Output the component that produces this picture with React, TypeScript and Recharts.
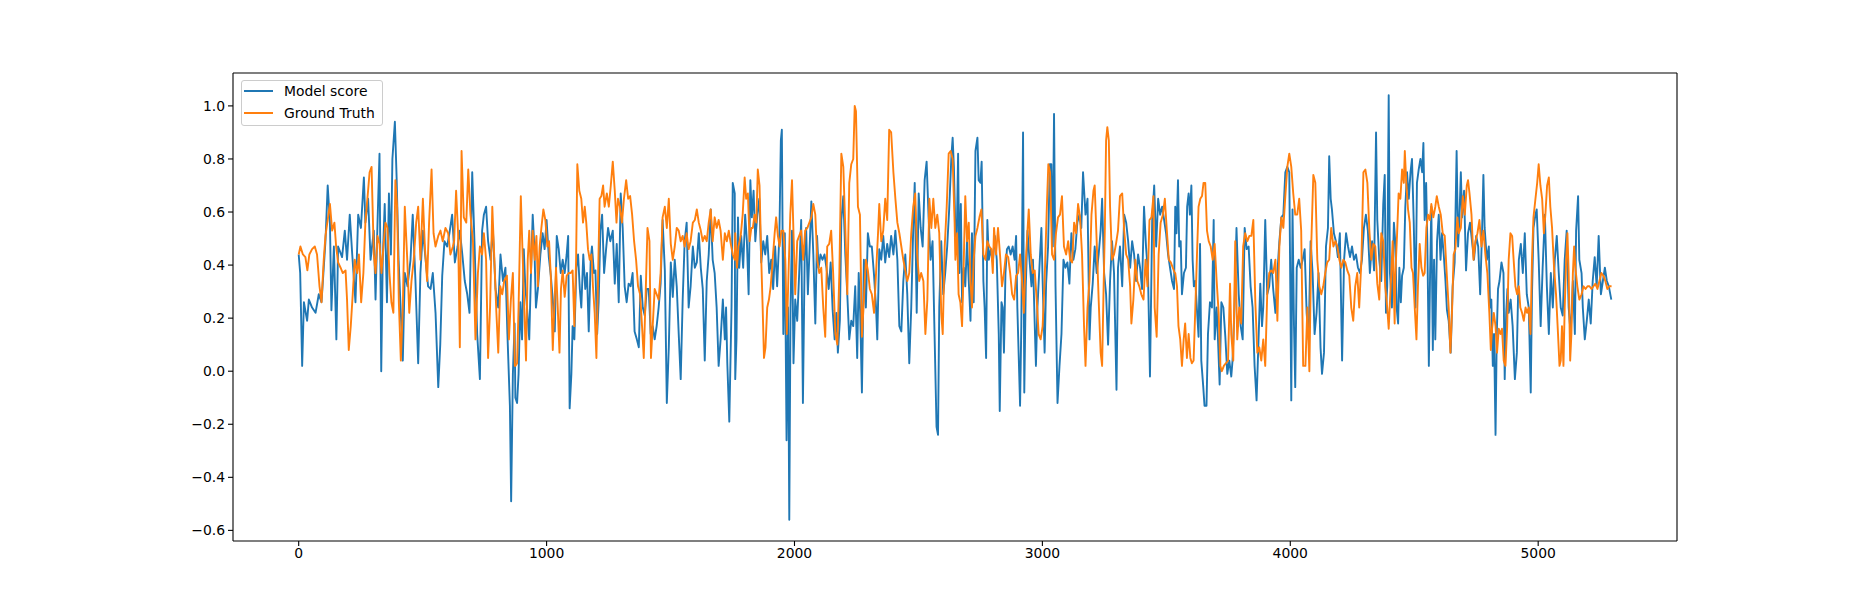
import React from 'react';
import { LineChart, Line, XAxis, YAxis, ReferenceLine } from 'recharts';

// Readings, [index, value], one array per stretch of the x axis.
const MODEL_SCORE_A: [number, number][] = [
  [0,0.44],[6,0.37],[14,0.02],[21,0.26],[34,0.19],[41,0.27],[54,0.24],[68,0.22],[81,0.29],[92,0.26],[108,0.49],[117,0.70],[126,0.56],[132,0.23],[142,0.47],[152,0.12],[159,0.47],[175,0.43],[186,0.53],[195,0.42],[206,0.59],[216,0.44],[229,0.26],[240,0.59],[251,0.54],[263,0.73],[269,0.56],[280,0.65],[290,0.42],[303,0.53],[310,0.27],[318,0.56],[326,0.82],[333,0.00],[339,0.42],[347,0.63],[356,0.26],[364,0.67],[372,0.44],[378,0.80],[388,0.94],[395,0.73],[403,0.42],[412,0.22],[420,0.04],[428,0.37],[439,0.32],[451,0.42],[460,0.59],[471,0.34],[482,0.03],[491,0.37],[501,0.53],[512,0.42],[522,0.32],[532,0.31],[541,0.37],[552,0.22],[563,-0.06],[571,0.10],[579,0.36],[588,0.49],[599,0.47],[608,0.52],[619,0.59],[630,0.41],[641,0.47],[650,0.53],[660,0.44],[670,0.34],[680,0.29],[689,0.22],[700,0.75],[709,0.49],[720,0.14],[731,-0.03],[740,0.53],[747,0.59],[756,0.62],[764,0.49],[774,0.42],[783,0.54],[794,0.31],[805,0.24],[814,0.44],[824,0.34],[834,0.39],[842,0.14],[852,-0.13],[857,-0.49],[864,-0.01],[871,0.18],
];
const MODEL_SCORE_B: [number, number][] = [
  [874,-0.10],[881,-0.12],[887,-0.01],[894,0.26],[901,0.12],[908,0.46],[914,0.32],[921,0.24],[930,0.12],[937,0.37],[944,0.59],[951,0.46],[957,0.24],[965,0.31],[975,0.44],[984,0.52],[992,0.46],[1000,0.57],[1009,0.43],[1017,0.36],[1025,0.27],[1033,0.15],[1041,0.51],[1049,0.46],[1057,0.37],[1065,0.42],[1073,0.37],[1081,0.44],[1087,0.51],[1093,-0.14],[1100,-0.01],[1105,0.17],[1112,0.12],[1120,0.39],[1127,0.44],[1134,0.31],[1140,0.24],[1148,0.44],[1156,0.31],[1163,0.37],[1170,0.15],[1178,0.42],[1183,0.47],[1191,0.37],[1197,0.38],[1204,0.14],[1210,0.26],[1217,0.53],[1224,0.59],[1232,0.37],[1240,0.46],[1248,0.54],[1257,0.49],[1267,0.53],[1275,0.33],[1283,0.48],[1291,0.26],[1299,0.67],[1307,0.54],[1315,0.32],[1323,0.26],[1331,0.33],[1339,0.32],[1347,0.37],[1355,0.15],[1364,0.12],[1372,0.09],[1380,0.36],[1388,0.24],[1396,0.21],[1404,0.31],[1412,0.31],[1420,0.14],[1428,0.17],[1436,0.12],[1444,0.17],[1452,0.24],[1460,0.33],[1468,0.57],[1477,0.38],[1485,-0.12],[1493,0.09],[1501,0.41],[1509,0.28],[1517,0.42],[1525,0.32],[1533,0.14],[1541,-0.03],[1549,0.27],[1557,0.49],[1565,0.56],[1573,0.24],[1581,0.32],[1590,0.47],[1598,0.39],[1606,0.41],[1614,0.52],[1622,0.39],[1630,0.31],[1638,0.04],[1646,0.34],[1654,0.44],[1662,0.61],[1670,0.42],[1678,0.37],[1686,0.24],[1694,0.02],[1702,0.12],[1711,0.27],[1719,0.12],[1724,0.24],[1729,0.03],[1737,-0.19],[1746,0.24],[1751,0.71],[1759,0.67],
];
const MODEL_SCORE_C: [number, number][] = [
  [1761,-0.03],[1766,0.12],[1772,0.58],[1777,0.39],[1785,0.51],[1793,0.39],[1801,0.59],[1808,0.49],[1815,0.29],[1822,0.72],[1828,0.58],[1835,0.68],[1842,0.49],[1850,0.59],[1858,0.65],[1866,0.41],[1874,0.49],[1882,0.44],[1890,0.51],[1898,0.37],[1906,0.42],[1914,0.31],[1922,0.47],[1930,0.32],[1939,0.51],[1945,0.87],[1949,0.91],[1955,0.14],[1961,0.52],[1968,-0.26],[1974,0.24],[1979,-0.56],[1984,0.24],[1990,0.53],[1996,0.03],[2003,0.27],[2011,0.19],[2019,0.37],[2027,0.57],[2034,-0.12],[2041,0.42],[2047,0.54],[2054,0.29],[2060,0.44],[2068,0.64],[2076,0.44],[2084,0.18],[2091,0.51],[2097,0.39],[2105,0.44],[2113,0.42],[2121,0.44],[2129,0.39],[2138,0.31],[2146,0.41],[2154,0.23],[2162,0.12],[2169,0.22],[2175,0.07],[2183,0.19],[2189,0.57],[2197,0.66],[2205,0.44],[2213,0.29],[2221,0.12],[2229,0.19],[2237,0.17],[2245,0.32],[2253,0.05],[2259,0.37],[2265,0.22],[2272,-0.08],[2280,0.42],[2288,0.24],[2296,0.52],[2304,0.47],[2312,0.47],[2321,0.36],[2329,0.24],[2334,0.12],[2342,0.46],[2350,0.42],[2358,0.51],[2366,0.41],[2374,0.48],[2382,0.43],[2390,0.51],[2399,0.44],[2407,0.53],[2415,0.42],[2423,0.17],[2431,0.15],[2439,0.34],[2447,0.44],[2455,0.29],[2463,0.03],[2471,0.24],[2479,0.54],[2485,0.71],[2493,0.22],[2501,0.67],[2509,0.54],[2517,0.47],[2525,0.72],[2533,0.79],[2541,0.58],[2549,0.42],[2557,0.49],[2565,0.14],[2573,-0.21],[2579,-0.24],[2584,0.24],[2592,0.49],[2600,0.29],[2608,0.37],[2616,0.47],[2624,0.61],[2633,0.81],[2638,0.88],[2643,0.77],
];
const MODEL_SCORE_D: [number, number][] = [
  [2649,0.53],[2654,0.47],[2660,0.82],[2665,0.37],[2671,0.63],[2676,0.26],[2683,0.39],[2689,0.32],[2696,0.49],[2703,0.34],[2710,0.19],[2716,0.52],[2723,0.26],[2730,0.83],[2738,0.88],[2743,0.72],[2750,0.71],[2755,0.79],[2762,0.34],[2767,0.24],[2773,0.05],[2778,0.57],[2784,0.42],[2792,0.46],[2800,0.41],[2808,0.51],[2816,0.42],[2824,0.14],[2828,-0.15],[2835,0.26],[2840,0.24],[2845,0.07],[2851,0.37],[2857,0.46],[2864,0.47],[2872,0.44],[2880,0.47],[2888,0.42],[2894,0.51],[2899,0.24],[2905,0.04],[2910,-0.13],[2915,0.17],[2922,0.90],[2927,-0.08],[2933,0.32],[2940,0.53],[2948,0.42],[2956,0.32],[2962,0.42],[2969,0.18],[2974,0.02],[2980,0.24],[2988,0.39],[2996,0.54],[3001,0.34],[3009,0.07],[3015,0.33],[3023,0.47],[3030,0.78],[3036,0.78],[3042,0.47],[3047,0.97],[3053,0.32],[3061,-0.12],[3069,0.02],[3077,0.14],[3085,0.42],[3093,0.39],[3101,0.41],[3109,0.33],[3117,0.52],[3125,0.42],[3133,0.46],[3141,0.56],[3149,0.59],[3157,0.54],[3164,0.75],[3174,0.59],[3182,0.65],[3190,0.12],[3195,0.24],[3203,0.33],[3211,0.47],[3219,0.37],[3227,0.44],[3235,0.53],[3241,0.65],[3249,0.37],[3257,0.29],[3265,0.10],[3273,0.34],[3281,0.49],[3289,0.37],[3299,-0.07],[3305,0.39],[3313,0.47],[3322,0.32],[3330,0.59],[3338,0.56],[3346,0.49],[3354,0.39],[3362,0.49],[3370,0.44],[3378,0.34],[3386,0.44],[3394,0.39],[3402,0.31],[3410,0.62],[3418,0.47],[3426,0.37],[3434,-0.02],[3443,0.57],[3451,0.70],[3459,0.47],[3467,0.65],[3475,0.59],[3483,0.62],[3491,0.57],[3499,0.52],[3507,0.44],[3515,0.39],[3523,0.34],[3531,0.31],
];
const MODEL_SCORE_E: [number, number][] = [
  [3536,0.62],[3541,0.52],[3547,0.72],[3552,0.47],[3558,0.49],[3563,0.29],[3571,0.37],[3579,0.39],[3584,0.62],[3590,0.67],[3595,0.59],[3601,0.70],[3606,0.42],[3611,0.32],[3617,0.34],[3623,0.24],[3630,0.13],[3636,0.48],[3641,0.04],[3649,-0.06],[3654,-0.13],[3662,-0.13],[3668,0.14],[3676,0.26],[3684,0.24],[3691,0.57],[3695,0.12],[3703,0.24],[3708,0.13],[3715,-0.05],[3722,0.26],[3730,0.24],[3738,0.13],[3746,-0.01],[3754,0.04],[3762,-0.02],[3767,0.04],[3775,0.24],[3783,0.54],[3792,0.29],[3800,0.17],[3808,0.12],[3816,0.54],[3824,0.46],[3832,0.47],[3840,0.32],[3848,0.24],[3856,0.02],[3864,-0.11],[3872,0.12],[3879,0.33],[3886,0.17],[3891,0.24],[3899,0.57],[3907,0.29],[3915,0.32],[3923,0.42],[3931,0.31],[3940,0.22],[3948,0.37],[3956,0.49],[3964,0.58],[3972,0.59],[3980,0.75],[3988,0.77],[3996,0.75],[4004,-0.11],[4009,0.61],[4015,0.17],[4020,-0.06],[4026,0.39],[4034,0.42],[4042,0.39],[4050,0.42],[4058,0.46],[4066,0.22],[4074,0.12],[4082,0.49],[4090,0.37],[4098,0.14],[4106,0.22],[4114,0.37],[4122,0.09],[4128,-0.01],[4136,0.07],[4144,0.47],[4152,0.54],[4157,0.81],[4163,0.65],[4168,0.61],[4176,0.52],[4184,0.49],[4192,0.43],[4200,0.52],[4209,0.04],[4217,0.42],[4225,0.52],[4233,0.47],[4241,0.43],[4249,0.47],[4257,0.42],[4265,0.44],[4273,0.39],[4281,0.37],[4289,0.42],[4297,0.54],[4305,0.59],[4313,0.53],[4321,0.37],[4330,0.49],[4338,0.38],[4346,0.90],[4351,0.57],[4359,0.42],[4367,0.34],[4375,0.63],[4381,0.74],[4386,0.22],[4391,0.32],[4397,1.04],[4402,0.37],[4410,0.24],[4418,0.56],
];
const MODEL_SCORE_F: [number, number][] = [
  [4424,0.48],[4429,0.24],[4435,0.18],[4440,0.39],[4446,0.26],[4451,0.36],[4458,0.39],[4464,0.62],[4471,0.75],[4478,0.65],[4485,0.75],[4491,0.80],[4498,0.56],[4505,0.24],[4511,0.71],[4518,0.76],[4525,0.80],[4532,0.75],[4537,0.86],[4542,0.57],[4548,0.71],[4553,0.48],[4559,0.02],[4564,0.37],[4569,0.62],[4575,0.08],[4580,0.42],[4585,0.12],[4592,0.49],[4599,0.59],[4606,0.42],[4612,0.52],[4619,0.44],[4626,0.34],[4632,0.23],[4639,0.19],[4647,0.07],[4655,0.32],[4663,0.41],[4671,0.83],[4677,0.47],[4682,0.57],[4688,0.75],[4693,0.58],[4701,0.68],[4709,0.38],[4717,0.52],[4725,0.56],[4733,0.49],[4741,0.42],[4750,0.51],[4758,0.47],[4766,0.29],[4774,0.54],[4779,0.74],[4784,0.54],[4793,0.42],[4801,0.47],[4806,0.24],[4811,0.27],[4817,0.02],[4822,0.14],[4828,-0.24],[4833,0.14],[4838,0.31],[4844,0.34],[4852,0.41],[4860,0.37],[4865,-0.03],[4871,0.22],[4876,0.31],[4881,0.22],[4889,0.27],[4897,0.17],[4906,-0.03],[4914,0.07],[4922,0.42],[4930,0.48],[4938,0.37],[4946,0.52],[4954,0.29],[4962,0.24],[4970,-0.08],[4975,0.29],[4981,0.54],[4989,0.59],[4994,0.61],[5002,0.42],[5010,0.17],[5018,0.39],[5027,0.59],[5035,0.32],[5043,0.14],[5051,0.37],[5059,0.24],[5067,0.42],[5075,0.51],[5083,0.37],[5091,0.24],[5099,0.21],[5107,0.42],[5115,0.53],[5123,0.24],[5131,0.14],[5140,0.34],[5148,0.14],[5153,0.53],[5161,0.66],[5166,0.42],[5175,0.37],[5180,0.24],[5188,0.12],[5196,0.19],[5204,0.27],[5212,0.18],[5220,0.34],[5228,0.43],[5236,0.32],[5244,0.51],[5253,0.29],[5261,0.34],[5269,0.39],[5277,0.34],[5285,0.32],[5295,0.27],
];

const GROUND_TRUTH_A: [number, number][] = [
  [0,0.44],[7,0.47],[17,0.44],[27,0.43],[35,0.38],[43,0.44],[54,0.46],[65,0.47],[74,0.44],[84,0.32],[92,0.26],[101,0.42],[108,0.51],[117,0.57],[126,0.63],[135,0.53],[144,0.56],[151,0.47],[159,0.41],[169,0.39],[178,0.37],[189,0.38],[195,0.27],[202,0.08],[210,0.17],[218,0.29],[226,0.42],[236,0.37],[243,0.44],[252,0.26],[261,0.37],[269,0.56],[279,0.67],[286,0.75],[294,0.77],[303,0.44],[310,0.37],[318,0.51],[326,0.48],[334,0.37],[342,0.47],[350,0.56],[358,0.54],[366,0.37],[374,0.26],[382,0.22],[390,0.72],[397,0.62],[404,0.26],[412,0.04],[420,0.24],[428,0.62],[438,0.42],[446,0.22],[455,0.34],[464,0.42],[474,0.56],[482,0.62],[491,0.42],[501,0.65],[509,0.47],[518,0.34],[526,0.56],[536,0.76],[544,0.52],[552,0.47],[563,0.51],[572,0.53],[581,0.49],[592,0.54],[603,0.52],[612,0.44],[622,0.47],[627,0.49],[635,0.68],[643,0.52],[650,0.09],[657,0.83],[666,0.58],[676,0.56],[684,0.76],[693,0.59],[703,0.49],[713,0.12],[723,0.37],[731,0.47],[740,0.44],[747,0.52],[756,0.42],[764,0.05],[772,0.24],[781,0.62],[789,0.43],[797,0.23],[805,0.07],[813,0.32],[821,0.29],[829,0.34],[840,0.36],[848,0.12],[856,0.27],[864,0.37],[872,0.02],
];
const GROUND_TRUTH_B: [number, number][] = [
  [874,0.02],[881,0.03],[887,0.24],[896,0.66],[904,0.42],[910,0.24],[917,0.04],[924,0.42],[930,0.53],[937,0.37],[944,0.53],[952,0.42],[959,0.51],[965,0.32],[972,0.47],[979,0.54],[987,0.61],[995,0.57],[1003,0.47],[1010,0.49],[1017,0.36],[1025,0.08],[1031,0.24],[1038,0.39],[1045,0.24],[1052,0.07],[1058,0.31],[1065,0.38],[1073,0.28],[1081,0.36],[1089,0.37],[1097,0.37],[1105,0.38],[1112,0.17],[1119,0.42],[1124,0.78],[1132,0.68],[1140,0.65],[1147,0.56],[1154,0.62],[1160,0.56],[1167,0.46],[1174,0.42],[1181,0.44],[1187,0.32],[1194,0.22],[1201,0.05],[1208,0.37],[1214,0.65],[1221,0.66],[1228,0.70],[1234,0.62],[1243,0.67],[1251,0.62],[1259,0.70],[1267,0.79],[1275,0.68],[1282,0.56],[1288,0.65],[1296,0.62],[1304,0.56],[1312,0.65],[1321,0.72],[1329,0.65],[1337,0.66],[1345,0.59],[1353,0.49],[1361,0.42],[1369,0.32],[1377,0.29],[1385,0.17],[1392,0.05],[1399,0.27],[1407,0.54],[1415,0.49],[1421,0.05],[1428,0.17],[1436,0.31],[1444,0.29],[1452,0.27],[1460,0.37],[1468,0.58],[1477,0.62],[1485,0.54],[1493,0.65],[1501,0.48],[1509,0.42],[1517,0.47],[1525,0.54],[1533,0.53],[1541,0.49],[1549,0.51],[1557,0.47],[1565,0.52],[1573,0.46],[1581,0.49],[1590,0.56],[1598,0.57],[1606,0.61],[1614,0.56],[1622,0.53],[1630,0.49],[1638,0.51],[1646,0.49],[1654,0.56],[1662,0.61],[1670,0.49],[1678,0.58],[1686,0.54],[1694,0.57],[1702,0.53],[1711,0.42],[1719,0.52],[1727,0.49],[1735,0.53],[1743,0.48],[1751,0.44],[1759,0.42],
];
const GROUND_TRUTH_C: [number, number][] = [
  [1761,0.52],[1768,0.39],[1774,0.47],[1783,0.51],[1791,0.59],[1799,0.73],[1805,0.65],[1812,0.67],[1819,0.49],[1826,0.54],[1832,0.54],[1839,0.59],[1846,0.56],[1852,0.76],[1859,0.70],[1866,0.42],[1871,0.26],[1877,0.05],[1883,0.09],[1890,0.24],[1897,0.27],[1904,0.32],[1912,0.42],[1920,0.52],[1926,0.58],[1933,0.51],[1940,0.47],[1947,0.53],[1955,0.53],[1963,0.42],[1969,0.14],[1976,0.37],[1983,0.59],[1990,0.72],[1996,0.52],[2003,0.29],[2011,0.49],[2019,0.51],[2027,0.53],[2035,0.42],[2043,0.53],[2052,0.54],[2060,0.56],[2068,0.58],[2076,0.63],[2084,0.59],[2092,0.42],[2100,0.37],[2108,0.39],[2116,0.24],[2124,0.13],[2132,0.47],[2140,0.48],[2148,0.53],[2156,0.37],[2165,0.14],[2173,0.10],[2181,0.37],[2189,0.82],[2197,0.77],[2205,0.54],[2213,0.29],[2221,0.71],[2229,0.78],[2237,0.80],[2243,1.00],[2248,0.98],[2256,0.62],[2264,0.59],[2272,0.13],[2280,0.27],[2288,0.42],[2296,0.38],[2304,0.31],[2312,0.29],[2321,0.22],[2329,0.37],[2337,0.52],[2342,0.63],[2350,0.49],[2358,0.53],[2366,0.65],[2374,0.57],[2382,0.91],[2390,0.90],[2399,0.75],[2407,0.65],[2415,0.56],[2423,0.52],[2431,0.47],[2439,0.42],[2447,0.38],[2455,0.34],[2463,0.37],[2471,0.52],[2479,0.62],[2487,0.67],[2495,0.44],[2503,0.34],[2511,0.37],[2520,0.34],[2528,0.14],[2536,0.27],[2544,0.65],[2552,0.54],[2560,0.65],[2568,0.54],[2576,0.59],[2584,0.52],[2592,0.22],[2598,0.14],[2606,0.47],[2614,0.62],[2622,0.82],[2630,0.83],[2638,0.80],[2646,0.56],
];
const GROUND_TRUTH_D: [number, number][] = [
  [2649,0.42],[2656,0.52],[2662,0.29],[2669,0.26],[2676,0.17],[2683,0.42],[2689,0.66],[2696,0.49],[2703,0.56],[2710,0.34],[2716,0.24],[2723,0.42],[2730,0.51],[2738,0.54],[2746,0.58],[2754,0.61],[2762,0.44],[2770,0.42],[2778,0.49],[2786,0.47],[2794,0.46],[2800,0.37],[2805,0.54],[2813,0.44],[2821,0.54],[2829,0.44],[2837,0.32],[2845,0.37],[2853,0.44],[2862,0.43],[2870,0.37],[2878,0.29],[2886,0.27],[2894,0.36],[2902,0.37],[2910,0.44],[2918,0.34],[2925,0.22],[2931,0.38],[2940,0.53],[2945,0.61],[2953,0.44],[2961,0.37],[2969,0.38],[2977,0.27],[2985,0.14],[2993,0.12],[3001,0.17],[3009,0.34],[3018,0.62],[3024,0.78],[3031,0.75],[3039,0.44],[3047,0.42],[3055,0.52],[3063,0.58],[3071,0.59],[3079,0.66],[3087,0.47],[3096,0.44],[3104,0.49],[3112,0.42],[3120,0.41],[3128,0.56],[3136,0.52],[3144,0.63],[3152,0.58],[3160,0.44],[3168,0.17],[3174,0.02],[3182,0.24],[3190,0.34],[3198,0.59],[3206,0.68],[3211,0.70],[3219,0.49],[3227,0.27],[3235,0.07],[3241,0.02],[3246,0.27],[3252,0.54],[3257,0.87],[3262,0.92],[3268,0.87],[3273,0.62],[3281,0.42],[3289,0.44],[3297,0.48],[3305,0.53],[3313,0.66],[3322,0.67],[3330,0.53],[3338,0.44],[3346,0.42],[3354,0.32],[3359,0.18],[3367,0.27],[3375,0.42],[3383,0.34],[3391,0.32],[3399,0.29],[3408,0.27],[3416,0.42],[3424,0.32],[3432,0.57],[3440,0.58],[3448,0.66],[3453,0.24],[3461,0.13],[3469,0.44],[3477,0.56],[3486,0.59],[3494,0.65],[3502,0.53],[3510,0.42],[3518,0.41],[3526,0.39],[3534,0.37],
];
const GROUND_TRUTH_E: [number, number][] = [
  [3536,0.37],[3543,0.32],[3549,0.17],[3556,0.12],[3563,0.02],[3570,0.12],[3576,0.18],[3583,0.05],[3590,0.14],[3597,0.05],[3603,0.03],[3610,0.04],[3617,0.24],[3623,0.42],[3630,0.62],[3637,0.65],[3644,0.66],[3650,0.71],[3657,0.71],[3664,0.53],[3671,0.49],[3679,0.47],[3687,0.42],[3695,0.48],[3703,0.34],[3711,0.22],[3718,0.02],[3724,0.00],[3732,0.02],[3740,0.03],[3749,0.04],[3757,0.33],[3762,0.14],[3770,0.04],[3778,0.49],[3786,0.12],[3794,0.24],[3802,0.18],[3810,0.47],[3818,0.52],[3827,0.49],[3835,0.51],[3843,0.51],[3851,0.57],[3859,0.26],[3867,0.07],[3875,0.09],[3883,0.04],[3891,0.12],[3899,0.02],[3907,0.29],[3915,0.37],[3923,0.38],[3931,0.37],[3940,0.42],[3948,0.19],[3956,0.47],[3964,0.58],[3972,0.54],[3980,0.66],[3988,0.77],[3996,0.82],[4004,0.77],[4012,0.67],[4020,0.59],[4028,0.59],[4036,0.65],[4044,0.53],[4052,0.02],[4061,0.02],[4069,0.24],[4077,0.00],[4085,0.49],[4093,0.74],[4101,0.71],[4109,0.42],[4117,0.32],[4125,0.29],[4133,0.32],[4141,0.37],[4149,0.41],[4157,0.42],[4165,0.54],[4174,0.47],[4182,0.49],[4190,0.47],[4198,0.42],[4206,0.39],[4214,0.42],[4222,0.41],[4230,0.38],[4238,0.36],[4246,0.24],[4254,0.19],[4262,0.32],[4270,0.37],[4278,0.24],[4287,0.42],[4295,0.75],[4303,0.76],[4311,0.71],[4319,0.53],[4327,0.42],[4335,0.48],[4343,0.47],[4351,0.33],[4359,0.27],[4367,0.52],[4375,0.49],[4383,0.32],[4391,0.24],[4397,0.16],[4405,0.32],[4413,0.49],[4421,0.18],
];
const GROUND_TRUTH_F: [number, number][] = [
  [4424,0.37],[4431,0.52],[4437,0.67],[4444,0.65],[4451,0.76],[4458,0.71],[4462,0.83],[4468,0.71],[4475,0.61],[4482,0.56],[4489,0.39],[4495,0.37],[4502,0.24],[4509,0.12],[4515,0.32],[4522,0.48],[4529,0.39],[4536,0.36],[4542,0.37],[4549,0.54],[4556,0.59],[4563,0.57],[4569,0.63],[4577,0.58],[4585,0.62],[4591,0.66],[4599,0.62],[4607,0.59],[4615,0.52],[4623,0.51],[4631,0.37],[4639,0.24],[4646,0.07],[4653,0.24],[4659,0.44],[4666,0.46],[4674,0.58],[4680,0.52],[4688,0.54],[4696,0.66],[4704,0.59],[4712,0.70],[4717,0.72],[4723,0.67],[4731,0.59],[4739,0.42],[4747,0.49],[4755,0.52],[4763,0.57],[4771,0.47],[4779,0.53],[4787,0.44],[4795,0.37],[4803,0.22],[4809,0.08],[4814,0.16],[4821,0.22],[4828,0.17],[4834,0.07],[4841,0.16],[4848,0.14],[4854,0.16],[4861,0.04],[4868,0.02],[4875,0.17],[4881,0.42],[4888,0.52],[4895,0.51],[4901,0.42],[4908,0.32],[4915,0.29],[4922,0.32],[4928,0.24],[4935,0.22],[4942,0.19],[4949,0.24],[4955,0.22],[4962,0.24],[4969,0.14],[4975,0.42],[4981,0.58],[4989,0.65],[4996,0.71],[5002,0.78],[5009,0.70],[5016,0.65],[5023,0.52],[5029,0.59],[5036,0.70],[5043,0.73],[5049,0.62],[5056,0.54],[5064,0.39],[5072,0.29],[5080,0.14],[5086,0.02],[5091,0.04],[5096,0.17],[5102,0.02],[5107,0.24],[5113,0.42],[5118,0.52],[5123,0.37],[5129,0.04],[5134,0.14],[5140,0.37],[5145,0.47],[5150,0.39],[5158,0.32],[5166,0.27],[5175,0.29],[5183,0.32],[5191,0.31],[5199,0.32],[5207,0.32],[5215,0.31],[5223,0.32],[5231,0.33],[5239,0.31],[5247,0.34],[5255,0.37],[5263,0.36],[5271,0.34],[5279,0.31],[5287,0.32],[5296,0.32],
];

const X_TICKS = [0, 1000, 2000, 3000, 4000, 5000];
const Y_TICKS = [-0.6, -0.4, -0.2, 0.0, 0.2, 0.4, 0.6, 0.8, 1.0];
const X_DOMAIN: [number, number] = [-265, 5560];
const Y_DOMAIN: [number, number] = [-0.64, 1.124];

const toRows = (parts: [number, number][][]) =>
  parts.flat().map(([x, v]) => ({ x, v }));

const modelScore = toRows([MODEL_SCORE_A, MODEL_SCORE_B, MODEL_SCORE_C, MODEL_SCORE_D, MODEL_SCORE_E, MODEL_SCORE_F]);
const groundTruth = toRows([GROUND_TRUTH_A, GROUND_TRUTH_B, GROUND_TRUTH_C, GROUND_TRUTH_D, GROUND_TRUTH_E, GROUND_TRUTH_F]);

const SERIES = [
  { name: 'Model score', color: '#1f77b4', data: modelScore },
  { name: 'Ground Truth', color: '#ff7f0e', data: groundTruth },
];

const FONT = "'DejaVu Sans', sans-serif";
const tickStyle = { fill: '#000', fontSize: 13.9, fontFamily: FONT };
const spine = { stroke: '#000', strokeWidth: 1.1 };
const formatY = (v: number) => v.toFixed(1).replace('-', '\u2212');

const LegendBox: React.FC = () => (
  <div
    style={{
      position: 'absolute',
      left: 241,
      top: 80,
      width: 142,
      height: 46,
      boxSizing: 'border-box',
      border: '1px solid #cccccc',
      borderRadius: 3,
      background: 'rgba(255,255,255,0.8)',
      fontFamily: FONT,
      fontSize: 13.9,
      color: '#000',
    }}
  >
    {SERIES.map((s, i) => (
      <React.Fragment key={s.name}>
        <div
          style={{
            position: 'absolute',
            left: 2,
            top: 9.3 + i * 21.4,
            width: 29,
            height: 2,
            background: s.color,
          }}
        />
        <div
          style={{
            position: 'absolute',
            left: 42,
            top: 2.3 + i * 21.4,
            lineHeight: '16px',
            whiteSpace: 'nowrap',
          }}
        >
          {s.name}
        </div>
      </React.Fragment>
    ))}
  </div>
);

export default function App() {
  return (
    <div style={{ position: 'absolute', left: 0, top: 0, width: 1863, height: 608, background: '#fff' }}>
      <LineChart
        width={1863}
        height={608}
        margin={{ top: 73, right: 186, bottom: 37, left: 173 }}
      >
        <XAxis
          dataKey="x"
          type="number"
          domain={X_DOMAIN}
          allowDataOverflow
          ticks={X_TICKS}
          interval={0}
          height={30}
          tick={tickStyle}
          tickSize={5}
          tickMargin={2}
          axisLine={spine}
          tickLine={spine}
        />
        <YAxis
          type="number"
          domain={Y_DOMAIN}
          allowDataOverflow
          ticks={Y_TICKS}
          interval={0}
          width={60}
          tick={tickStyle}
          tickFormatter={formatY}
          tickSize={5}
          tickMargin={3}
          axisLine={spine}
          tickLine={spine}
        />
        {/* top and right spines of the matplotlib-style frame */}
        <ReferenceLine y={Y_DOMAIN[1]} {...spine} />
        <ReferenceLine x={X_DOMAIN[1]} {...spine} />
        {SERIES.map((s) => (
          <Line
            key={s.name}
            data={s.data}
            dataKey="v"
            name={s.name}
            type="linear"
            stroke={s.color}
            strokeWidth={1.9}
            strokeLinejoin="round"
            dot={false}
            activeDot={false}
            isAnimationActive={false}
          />
        ))}
      </LineChart>
      <LegendBox />
    </div>
  );
}
